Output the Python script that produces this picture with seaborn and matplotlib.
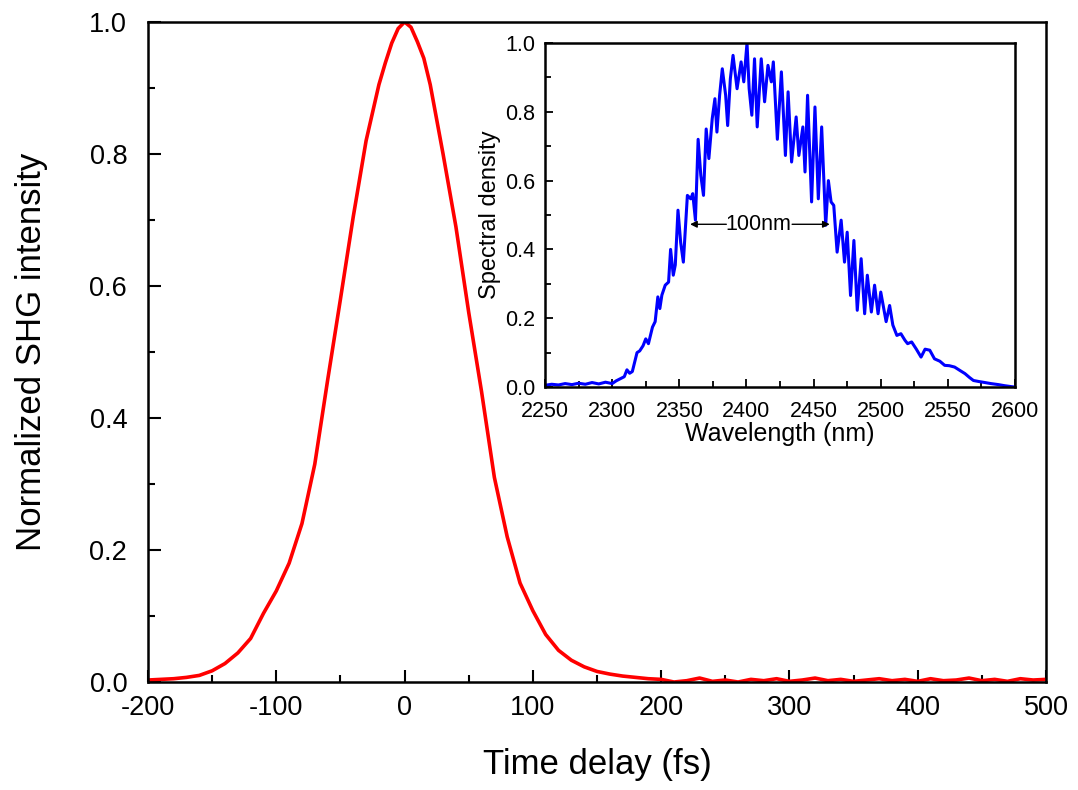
import matplotlib
matplotlib.use("Agg")
import matplotlib.pyplot as plt
from matplotlib.ticker import MultipleLocator
import seaborn as sns
import pandas as pd

# --- data ---
delay_fs = [-200, -190, -180, -170, -160, -150, -140, -130, -120, -110,
            -100, -90, -80, -70, -60, -50, -40, -30, -20, -15, -10, -5,
            0, 5, 10, 15, 20, 30, 40, 50, 60, 70, 80, 90,
            100, 110, 120, 130, 140, 150, 160, 170, 180, 190,
            200, 210, 220, 230, 240, 250, 260, 270, 280, 290,
            300, 310, 320, 330, 340, 350, 360, 370, 380, 390,
            400, 410, 420, 430, 440, 450, 460, 470, 480, 490, 500]
shg = [0.003, 0.004, 0.005, 0.007, 0.010, 0.017, 0.028, 0.044, 0.066, 0.104,
       0.138, 0.180, 0.240, 0.330, 0.457, 0.580, 0.705, 0.820, 0.905, 0.938, 0.968, 0.990,
       1.000, 0.992, 0.970, 0.945, 0.905, 0.800, 0.690, 0.560, 0.440, 0.310, 0.220, 0.150,
       0.108, 0.072, 0.048, 0.033, 0.023, 0.016, 0.012, 0.009, 0.007, 0.005,
       0.004, 0.000, 0.002, 0.006, 0.001, 0.003, 0.000, 0.004, 0.002, 0.005,
       0.001, 0.003, 0.006, 0.002, 0.004, 0.001, 0.003, 0.005, 0.002, 0.004,
       0.001, 0.005, 0.002, 0.003, 0.006, 0.002, 0.004, 0.001, 0.005, 0.003, 0.004]

wavelength_nm = [2250, 2255, 2260, 2265, 2270, 2275, 2280, 2285, 2290, 2295,
                 2300, 2303, 2306, 2309, 2311, 2313, 2315, 2318.5, 2320.5, 2323,
                 2325, 2327, 2330, 2332, 2334, 2335.5, 2337, 2339.5, 2342, 2343.5,
                 2345.5, 2347, 2349, 2351, 2353, 2356, 2358.5, 2360, 2362, 2364,
                 2366, 2368, 2370, 2372, 2374.5, 2376.5, 2378, 2380, 2382, 2384.5,
                 2386, 2388, 2390, 2393, 2396, 2398, 2400.4, 2402, 2404, 2406,
                 2408, 2411, 2413.5, 2416, 2418.5, 2420, 2423, 2426, 2429, 2431,
                 2433.6, 2437, 2439, 2442, 2443.6, 2445.5, 2448.5, 2451, 2453.5, 2456,
                 2459, 2461, 2463, 2465, 2467.5, 2470.5, 2473, 2475, 2477.5, 2480,
                 2482.5, 2485.4, 2488, 2490, 2493, 2495.4, 2498, 2500, 2504, 2506.6,
                 2509, 2512, 2515, 2518, 2520, 2523, 2526.5, 2530, 2533, 2536.5,
                 2540, 2544, 2547.6, 2551, 2555, 2559, 2562.7, 2566, 2569, 2573,
                 2577.6, 2582, 2587.6, 2592, 2597.5, 2600]
spectral = [0.005, 0.008, 0.006, 0.010, 0.007, 0.011, 0.008, 0.013, 0.009, 0.014,
            0.010, 0.018, 0.024, 0.030, 0.050, 0.040, 0.045, 0.100, 0.105, 0.120,
            0.140, 0.126, 0.174, 0.190, 0.262, 0.228, 0.267, 0.296, 0.305, 0.400,
            0.325, 0.355, 0.514, 0.420, 0.363, 0.557, 0.547, 0.562, 0.485, 0.720,
            0.615, 0.557, 0.750, 0.664, 0.780, 0.838, 0.741, 0.848, 0.925, 0.848,
            0.760, 0.896, 0.964, 0.867, 0.945, 0.887, 1.000, 0.867, 0.790, 0.954,
            0.756, 0.954, 0.829, 0.935, 0.887, 0.945, 0.720, 0.916, 0.673, 0.858,
            0.654, 0.785, 0.673, 0.756, 0.625, 0.848, 0.538, 0.814, 0.547, 0.756,
            0.470, 0.600, 0.538, 0.528, 0.392, 0.485, 0.363, 0.450, 0.266, 0.426,
            0.223, 0.373, 0.213, 0.325, 0.218, 0.296, 0.213, 0.276, 0.190, 0.237,
            0.180, 0.150, 0.155, 0.136, 0.126, 0.131, 0.110, 0.087, 0.110, 0.107,
            0.082, 0.075, 0.063, 0.062, 0.058, 0.048, 0.039, 0.028, 0.019, 0.016,
            0.013, 0.010, 0.007, 0.004, 0.001, 0.000]

fwhm_label = "100nm"
fwhm_left, fwhm_right, fwhm_level = 2358, 2462, 0.473

sns.set_theme(style="ticks")
plt.rcParams['font.family'] = ['Liberation Sans', 'DejaVu Sans']
plt.rcParams['axes.unicode_minus'] = False
plt.rcParams['axes.linewidth'] = 1.8
plt.rcParams['axes.edgecolor'] = 'black'
plt.rcParams['text.color'] = 'black'
plt.rcParams['axes.labelcolor'] = 'black'
plt.rcParams['xtick.color'] = 'black'
plt.rcParams['ytick.color'] = 'black'

main_df = pd.DataFrame({"delay": delay_fs, "shg": shg})
spec_df = pd.DataFrame({"wl": wavelength_nm, "sd": spectral})

fig = plt.figure(figsize=(10.78, 7.90), dpi=100)
ax = fig.add_axes([0.1373, 0.1367, 0.8330, 0.8355])

sns.lineplot(data=main_df, x="delay", y="shg", color="#ff0000", linewidth=2.6,
             estimator=None, ax=ax)
ax.set_xlim(-200, 500)
ax.set_ylim(0, 1.0)
ax.xaxis.set_major_locator(MultipleLocator(100))
ax.xaxis.set_minor_locator(MultipleLocator(50))
ax.yaxis.set_major_locator(MultipleLocator(0.2))
ax.yaxis.set_minor_locator(MultipleLocator(0.1))
ax.yaxis.set_major_formatter(plt.FormatStrFormatter('%.1f'))
ax.tick_params(which="both", direction="in", top=False, right=False, width=1.5,
               labelsize=19.5)
ax.tick_params(axis="y", pad=15)
ax.tick_params(axis="x", pad=9)
ax.tick_params(which="major", length=9)
ax.tick_params(which="minor", length=5)
ax.set_xlabel("Time delay (fs)", fontsize=25, labelpad=20)
ax.set_ylabel("Normalized SHG intensity", fontsize=25, labelpad=30)

# inset spectrum
axin = fig.add_axes([0.5056, 0.5101, 0.4360, 0.4355])
sns.lineplot(data=spec_df, x="wl", y="sd", color="#0000ff", linewidth=2.2,
             estimator=None, ax=axin)
axin.set_xlim(2250, 2600)
axin.set_ylim(0, 1.0)
axin.xaxis.set_major_locator(MultipleLocator(50))
axin.xaxis.set_minor_locator(MultipleLocator(25))
axin.yaxis.set_major_locator(MultipleLocator(0.2))
axin.yaxis.set_minor_locator(MultipleLocator(0.1))
axin.yaxis.set_major_formatter(plt.FormatStrFormatter('%.1f'))
axin.tick_params(which="both", direction="in", top=False, right=False, width=1.3,
                 labelsize=15.5)
axin.tick_params(axis="y", pad=7)
axin.tick_params(axis="x", pad=10)
axin.tick_params(which="major", length=6)
axin.tick_params(which="minor", length=4)
axin.set_xlabel("Wavelength (nm)", fontsize=18, labelpad=0)
axin.set_ylabel("Spectral density", fontsize=17, labelpad=3)

# FWHM marker
axin.text(2409, fwhm_level, fwhm_label, fontsize=15.5, ha="center", va="center")
axin.annotate("", xy=(fwhm_left, fwhm_level), xytext=(2385, fwhm_level),
              arrowprops=dict(arrowstyle="-|>", color="black", lw=1.0,
                              mutation_scale=10, shrinkA=0, shrinkB=0))
axin.annotate("", xy=(fwhm_right, fwhm_level), xytext=(2434, fwhm_level),
              arrowprops=dict(arrowstyle="-|>", color="black", lw=1.0,
                              mutation_scale=10, shrinkA=0, shrinkB=0))

fig.savefig("out.png", dpi=100)
